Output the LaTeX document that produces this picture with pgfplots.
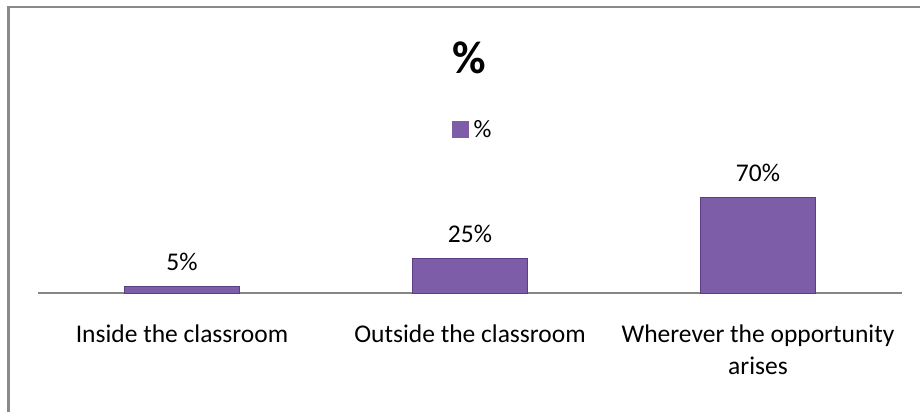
\documentclass[border=0pt]{standalone}
\usepackage{pgfplots}
\pgfplotsset{compat=1.18}
\usepackage{fontspec}
\setmainfont{Carlito}
\definecolor{barfill}{HTML}{7D5DA8}
\definecolor{baredge}{HTML}{5B3F85}
\definecolor{framegray}{HTML}{8A8A8A}
\definecolor{axisgray}{HTML}{868686}

\begin{document}
\begin{tikzpicture}[x=1pt,y=1pt]
\path[use as bounding box] (0,0) rectangle (920,412);
% outer frame (only top and left visible in the reference)
\draw[framegray, line width=2.4pt] (8.5,0) -- (8.5,405) -- (920,405);
% chart title
\node[font=\fontsize{46}{50}\selectfont\bfseries] at (469,354) {\%};

\begin{axis}[
  at={(38pt,119pt)}, anchor=south west,
  scale only axis, width=864pt, height=137.1pt,
  xmin=-0.5, xmax=2.5, ymin=0, ymax=100,
  ybar, bar width=115pt,
  axis x line*=bottom, axis y line=none,
  x axis line style={-, draw=axisgray, line width=2.3pt},
  xtick=data, xtick style={draw=none}, ytick=\empty,
  xticklabels={Inside the classroom,Outside the classroom,{Wherever the opportunity\\arises}},
  xticklabel style={font=\fontsize{25.5}{32}\selectfont, align=center, anchor=north, yshift=-24pt},
  nodes near coords={\pgfmathprintnumber[assume math mode=true]{\pgfplotspointmeta}\%},
  nodes near coords style={font=\fontsize{25.5}{30}\selectfont, anchor=base, yshift=16pt, inner sep=0pt},
  clip=false,
  legend style={at={(0.503,1.189)}, anchor=center, draw=none, fill=none,
    font=\fontsize{25}{28}\selectfont, inner sep=0pt},
  legend image code/.code={\fill[barfill] (0pt,-7pt) rectangle (16pt,9pt);},
  legend cell align=left,
]
\addplot[fill=barfill, draw=baredge, line width=0.8pt] coordinates {(0,5) (1,25) (2,70)};
\legend{\hspace*{3pt}\%}
\end{axis}
\end{tikzpicture}
\end{document}
